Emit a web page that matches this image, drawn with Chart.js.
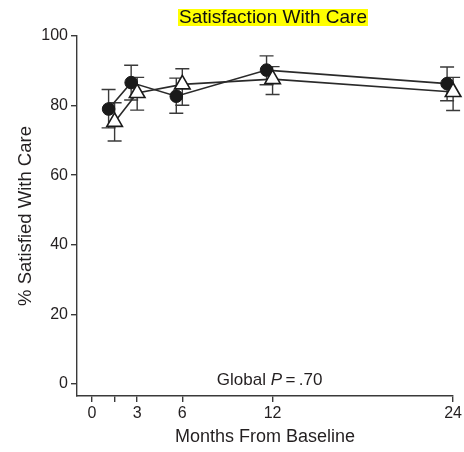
<!DOCTYPE html>
<html>
<head>
<meta charset="utf-8">
<script src="https://cdn.jsdelivr.net/npm/chart.js@4"></script>
<style>
  html, body { margin: 0; padding: 0; background: #fff; }
  #wrap { width: 464px; height: 452px; }
</style>
</head>
<body>
<div id="wrap"><canvas id="chart"></canvas></div>
<script>
const xTicks = [0, 1.5, 3, 6, 12, 24]
const yTicks = [0, 20, 40, 60, 80, 100]

const triangleMonths = [1.5, 3, 6, 12, 24]
const triangleValues = [75.3, 83.6, 86.1, 87.6, 83.9]
const triangleLower = [69.8, 78.7, 80.1, 83.2, 78.6]
const triangleUpper = [80.8, 88.1, 90.6, 91.2, 88.1]

const circleMonths = [1.1, 2.6, 5.6, 11.6, 23.6]
const circleValues = [79.0, 86.6, 82.7, 90.2, 86.3]
const circleLower = [73.6, 81.6, 77.8, 86.0, 81.4]
const circleUpper = [84.6, 91.6, 87.9, 94.3, 91.1]

const titleText = 'Satisfaction With Care'
const ink = '#231f20'
const font = 'Liberation Sans, Arial, Helvetica, sans-serif'

const toPoints = (xs, ys) => xs.map((x, i) => ({x, y: ys[i]}))

const errorBars = {
    id: 'error-bars',
    beforeDatasetsDraw(chart) {
        const {ctx, scales: {x, y}} = chart
        const groups = [
            [circleMonths, circleLower, circleUpper],
            [triangleMonths, triangleLower, triangleUpper],
        ]
        ctx.save()
        ctx.strokeStyle = '#3a3a3a'
        ctx.lineWidth = 1.4
        groups.forEach(([xs, lo, hi]) => {
            xs.forEach((m, i) => {
                const px = x.getPixelForValue(m)
                const top = y.getPixelForValue(hi[i])
                const bot = y.getPixelForValue(lo[i])
                ctx.beginPath()
                ctx.moveTo(px, top); ctx.lineTo(px, bot)
                ctx.moveTo(px - 7, top); ctx.lineTo(px + 7, top)
                ctx.moveTo(px - 7, bot); ctx.lineTo(px + 7, bot)
                ctx.stroke()
            })
        })
        ctx.restore()
    },
}

const annotations = {
    id: 'annotations',
    afterDraw(chart) {
        const {ctx, scales: {x, y}} = chart
        ctx.save()
        // highlighted title
        ctx.font = '19px ' + font
        const tw = ctx.measureText(titleText).width
        const cx = 273
        ctx.fillStyle = '#ffff00'
        ctx.fillRect(cx - tw / 2 - 1, 9, tw + 2, 17)
        ctx.fillStyle = '#111'
        ctx.textAlign = 'center'
        ctx.textBaseline = 'middle'
        ctx.fillText(titleText, cx, 18)

        // Global P = .70
        ctx.fillStyle = ink
        ctx.textAlign = 'left'
        ctx.textBaseline = 'alphabetic'
        const parts = [['Global ', '17px '], ['P', 'italic 17px '], ['\u2009=\u2009.70', '17px ']]
        let total = 0
        parts.forEach(([t, f]) => { ctx.font = f + font; total += ctx.measureText(t).width })
        let px = x.getPixelForValue(11.8) - total / 2
        const py = y.getPixelForValue(0) + 1
        parts.forEach(([t, f]) => {
            ctx.font = f + font
            ctx.fillText(t, px, py)
            px += ctx.measureText(t).width
        })
        ctx.restore()
    },
}

new Chart(document.getElementById('chart'), {
    type: 'line',
    data: {
        datasets: [
            {
                data: toPoints(circleMonths, circleValues),
                borderColor: '#2a2a2a',
                borderWidth: 1.6,
                pointStyle: 'circle',
                pointRadius: 6.3,
                pointBackgroundColor: '#1a1a1a',
                pointBorderColor: '#1a1a1a',
                pointBorderWidth: 1,
                tension: 0,
                clip: false,
                order: 2,
            },
            {
                data: toPoints(triangleMonths, triangleValues),
                borderColor: '#2a2a2a',
                borderWidth: 1.6,
                pointStyle: 'triangle',
                pointRadius: 9,
                pointBackgroundColor: '#ffffff',
                pointBorderColor: '#1a1a1a',
                pointBorderWidth: 1.6,
                tension: 0,
                clip: false,
                order: 1,
            },
        ],
    },
    options: {
        responsive: true,
        maintainAspectRatio: false,
        animation: false,
        layout: {padding: {top: 36, right: 0, left: 0, bottom: 0}},
        plugins: {
            legend: {display: false},
            tooltip: {enabled: false},
        },
        scales: {
            x: {
                type: 'linear',
                min: -1,
                max: 24,
                afterBuildTicks: scale => { scale.ticks = xTicks.map(v => ({value: v})) },
                afterFit: scale => { scale.height = 56 },
                grid: {drawOnChartArea: false, drawTicks: true, tickLength: 6, color: '#3a3a3a', lineWidth: 1.4},
                border: {display: true, color: '#3a3a3a', width: 1.4},
                ticks: {
                    padding: 2,
                    color: ink,
                    font: {family: font, size: 16},
                    maxRotation: 0,
                    autoSkip: false,
                    callback: v => v === 1.5 ? '' : v,
                },
                title: {
                    display: true,
                    text: 'Months From Baseline',
                    color: ink,
                    font: {family: font, size: 18},
                    padding: {top: 0, bottom: 4},
                },
            },
            y: {
                min: -3.5,
                max: 100,
                afterBuildTicks: scale => { scale.ticks = yTicks.map(v => ({value: v})) },
                afterFit: scale => { scale.width = 77 },
                grid: {drawOnChartArea: false, drawTicks: true, tickLength: 6, color: '#3a3a3a', lineWidth: 1.4},
                border: {display: true, color: '#3a3a3a', width: 1.4},
                ticks: {
                    padding: 3,
                    color: ink,
                    font: {family: font, size: 16},
                },
                title: {
                    display: true,
                    text: '% Satisfied With Care',
                    color: ink,
                    font: {family: font, size: 18.5},
                    padding: {top: 15, bottom: 0},
                },
            },
        },
    },
    plugins: [errorBars, annotations],
})
</script>
</body>
</html>
